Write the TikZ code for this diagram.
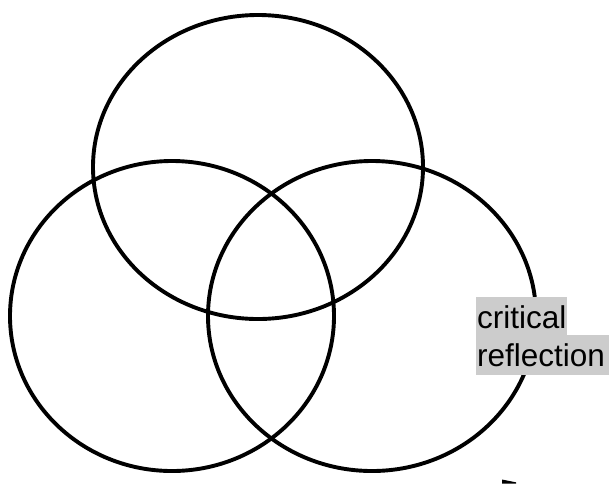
\documentclass[tikz,border=0pt]{standalone}
\usepackage{fontspec}
\setmainfont{Liberation Sans}
\definecolor{hlgray}{HTML}{CCCCCC}
\begin{document}
\begin{tikzpicture}[x=1pt,y=-1pt,
  ring/.style={draw=black,line width=3.9pt},
  hlbox/.style={fill=hlgray},
  lbl/.style={anchor=base west,inner sep=0pt,font=\fontsize{31.5}{38}\selectfont}]
\useasboundingbox (0,0) rectangle (609,483);
\clip (0,0) rectangle (609,483);
% three overlapping ellipses
\draw[ring] (258,167) ellipse [x radius=165, y radius=152];
\draw[ring] (172,316) ellipse [x radius=162, y radius=155];
\draw[ring] (372,316) ellipse [x radius=164, y radius=155];
% highlighted label
\fill[hlbox] (476,297) rectangle (567,335);
\fill[hlbox] (476,335) rectangle (620,375);
\node[lbl] (crit) at (477,328) {critical};
\node[lbl] (refl) at (477,366) {reflection};
% small mark at bottom edge
\fill[black] (502,479.5) -- (516,482.3) -- (516,483.5) -- (502,483.5) -- cycle;
\end{tikzpicture}
\end{document}
